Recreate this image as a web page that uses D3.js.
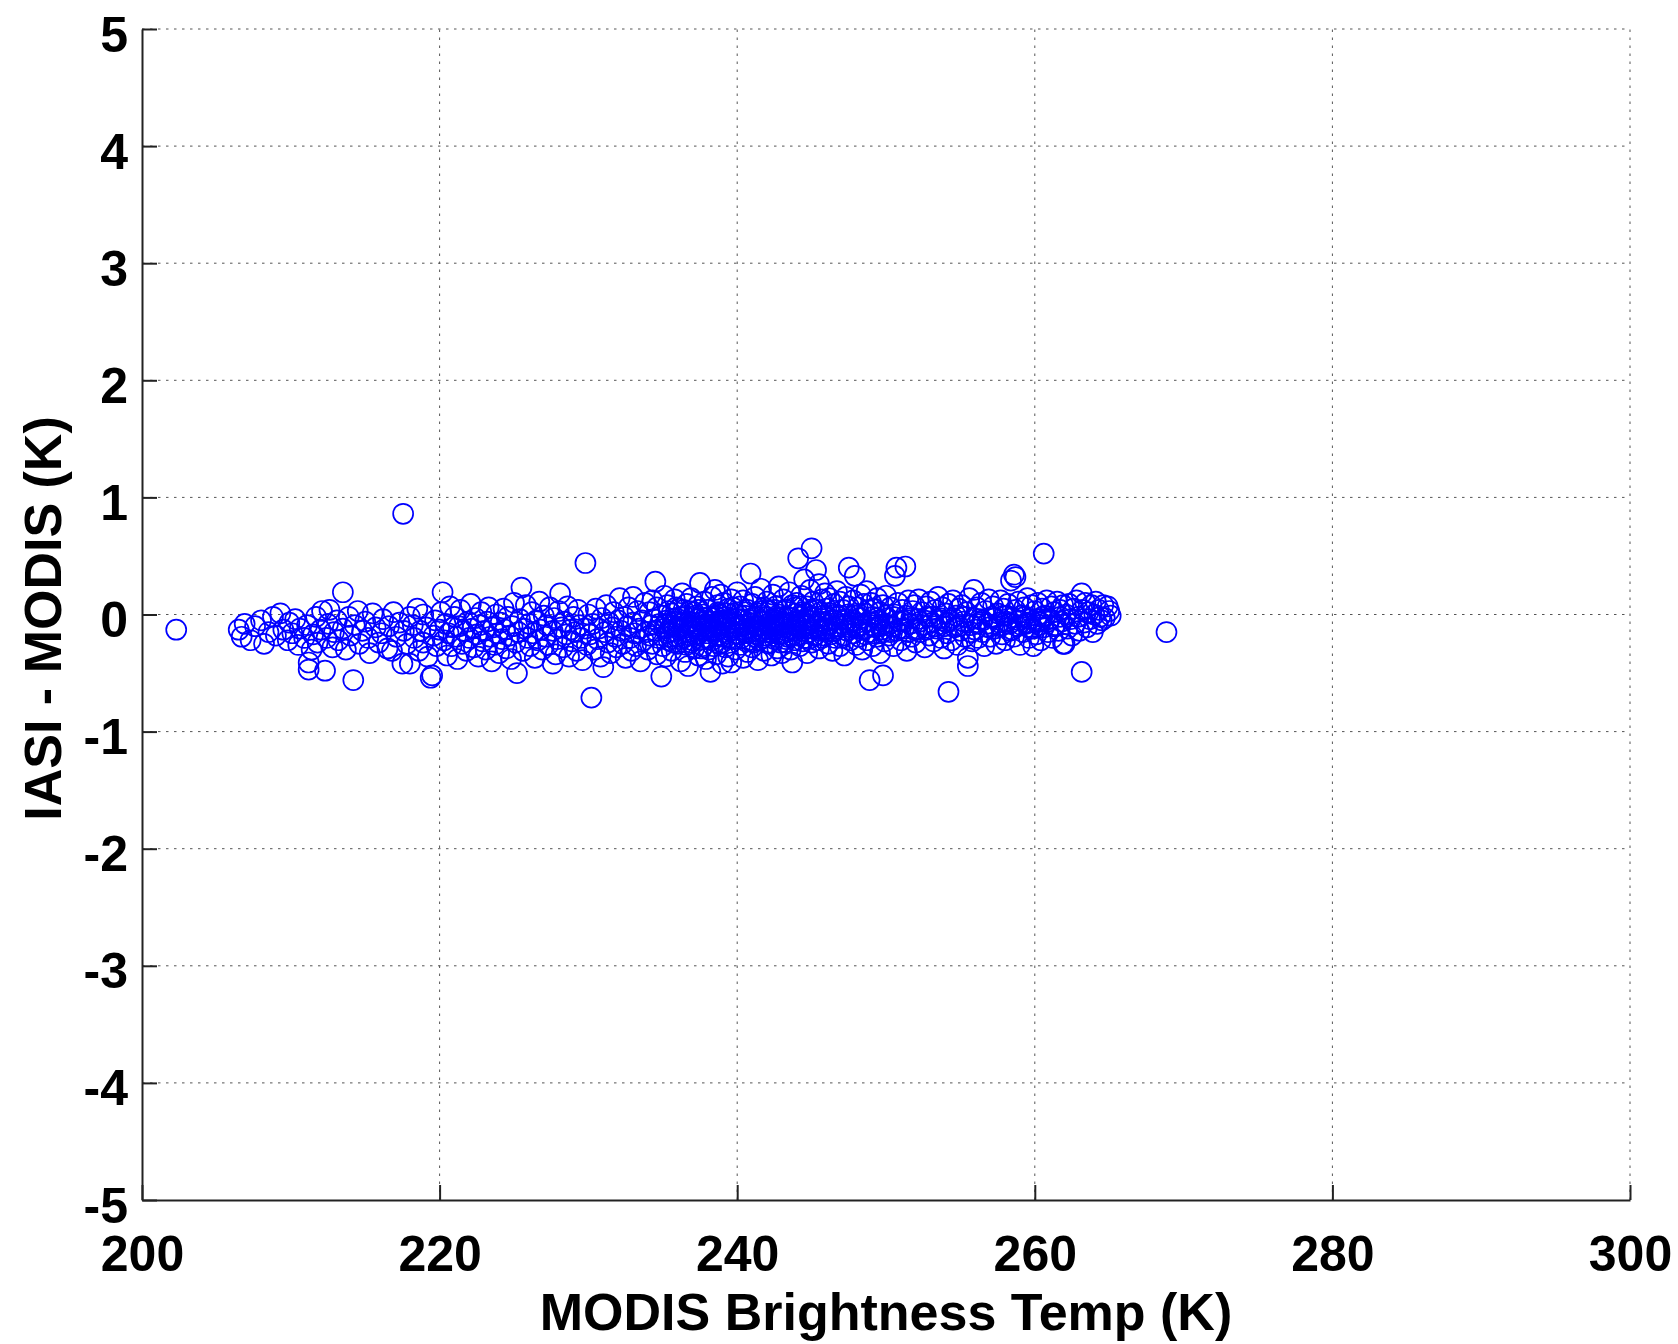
<!DOCTYPE html>
<html>
<head>
<meta charset="utf-8">
<script src="https://cdn.jsdelivr.net/npm/d3@7"></script>
<style>
  html, body { margin: 0; padding: 0; background: #fff; }
  svg { display: block; }
  text { font-family: "Liberation Sans", Arial, Helvetica, sans-serif; font-weight: bold; fill: #000; }
</style>
</head>
<body>
<svg id="chart" width="1678" height="1344"></svg>
<script>
// Axis ranges and tick values
const xTicks = [200, 220, 240, 260, 280, 300];
const yTicks = [-5, -4, -3, -2, -1, 0, 1, 2, 3, 4, 5];
const xTitle = "MODIS Brightness Temp (K)";
const yTitle = "IASI - MODIS (K)";

// Collocated samples: [MODIS brightness temperature (K), IASI - MODIS difference (K)]
const samplesCold = [
  [202.3,-0.13],[206.5,-0.13],[206.7,-0.19],[206.9,-0.08],[207.3,-0.22],[207.6,-0.1],[208.0,-0.05],[208.2,-0.25],
  [208.5,-0.15],[208.8,-0.02],[209.0,-0.18],[209.3,0.01],[209.5,-0.13],[209.8,-0.22],[209.9,-0.07],
  [210.1,-0.16],[210.3,-0.04],[210.5,-0.26],[210.6,-0.12],[210.9,-0.2],[211.1,-0.09],[211.2,-0.41],[211.2,-0.47],
  [211.4,-0.3],[211.5,-0.17],[211.7,-0.02],[211.8,-0.24],[212.0,-0.13],[212.1,0.03],[212.3,-0.48],[212.4,-0.2],
  [212.5,-0.08],[212.6,0.04],[212.8,-0.28],[212.9,-0.15],[213.1,-0.05],[213.2,-0.22],[213.5,0.19],[213.5,-0.12],
  [213.7,-0.3],[213.9,-0.02],[214.0,-0.18],[214.2,-0.56],[214.3,-0.09],[214.5,0.03],[214.6,-0.25],[214.8,-0.14],
  [215.0,-0.06],[215.2,-0.2],[215.3,-0.33],[215.5,0.01],[215.7,-0.11],[215.9,-0.24],[216.1,-0.16],[216.2,-0.04],
  [216.5,-0.29],[216.6,-0.1],[216.8,-0.31],[216.9,0.02],[217.1,-0.19],[217.3,-0.07],[217.5,-0.42],[217.55,0.86],
  [217.6,-0.14],[217.8,-0.25],[218.0,-0.02],[218.0,-0.42]
];

const samplesMid = [
  [218.2,-0.09],[218.3,-0.2],[218.5,0.05],[218.6,-0.31],[218.7,-0.14],[218.9,-0.24],[218.9,0.0],[219.1,-0.11],
  [219.2,-0.36],[219.4,-0.54],[219.5,-0.52],[219.6,-0.18],[219.7,-0.05],[219.8,-0.27],
  [220.0,-0.13],[220.1,0.02],[220.2,0.19],[220.3,-0.22],[220.4,-0.08],[220.5,-0.35],[220.6,-0.16],[220.7,0.07],
  [220.8,-0.27],[220.9,-0.11],[221.0,-0.02],[221.1,-0.19],[221.2,-0.38],[221.3,-0.1],[221.4,0.04],[221.5,-0.25],
  [221.6,-0.14],[221.8,-0.31],[221.9,-0.06],[222.0,-0.2],
  [222.1,0.09],[222.2,-0.12],[222.3,-0.28],[222.4,-0.03],[222.5,-0.17],[222.6,-0.36],[222.7,-0.09],[222.8,0.02],
  [222.9,-0.23],[223.0,-0.14],[223.1,-0.3],[223.2,-0.06],[223.3,0.06],[223.4,-0.19],[223.5,-0.4],[223.6,-0.11],
  [223.7,-0.26],[223.8,0.0],[223.9,-0.16],[224.0,-0.33],
  [224.1,-0.07],[224.2,-0.21],[224.3,0.05],[224.4,-0.13],[224.5,-0.29],[224.6,-0.02],[224.7,-0.18],[224.8,-0.38],
  [224.9,-0.1],[225.0,0.1],[225.1,-0.24],[225.2,-0.5],[225.3,-0.15],[225.4,-0.04],[225.5,0.23],[225.6,-0.31],
  [225.7,-0.12],[225.8,0.08],[225.9,-0.2],[226.0,-0.08],
  [226.1,-0.27],[226.2,0.02],[226.3,-0.16],[226.4,-0.37],[226.5,-0.05],[226.6,-0.22],[226.7,0.11],[226.8,-0.13],
  [226.9,-0.3],[227.0,-0.01],[227.1,-0.19],[227.2,-0.09],[227.3,-0.26],[227.4,0.06],[227.6,-0.42],[227.6,-0.14],
  [227.7,-0.03],[227.8,-0.34],[227.9,-0.21],[228.0,0.03],
  [228.1,0.18],[228.2,-0.11],[228.3,-0.28],[228.4,-0.06],[228.5,-0.17],[228.6,0.07],[228.7,-0.36],[228.8,-0.13],
  [228.9,-0.23],[229.0,-0.02],[229.1,-0.15],[229.2,-0.31],[229.3,0.04],[229.4,-0.09],[229.5,-0.2],[229.6,-0.39],
  [229.8,0.44],[229.8,-0.12],[229.9,-0.26],[230.0,0.0],
  [230.1,-0.17],[230.2,-0.71],[230.3,-0.08],[230.4,-0.3],[230.5,0.05],[230.6,-0.21],[230.7,-0.12],[230.8,-0.36],
  [230.9,-0.03],[231.0,-0.45],[231.1,-0.15],[231.2,0.08],[231.3,-0.24],[231.4,-0.07],[231.5,-0.33],[231.6,-0.11],
  [231.7,0.02],[231.8,-0.19],[231.9,-0.28],[232.0,-0.05],
  [232.1,0.14],[232.2,-0.14],[232.3,-0.25],[232.4,-0.02],[232.5,-0.37],[232.6,-0.1],[232.7,0.06],[232.8,-0.2],
  [232.9,-0.31],[233.0,0.15],[233.0,-0.07],[233.1,-0.16],[233.2,-0.27],[233.3,0.03],[233.4,-0.12],[233.5,-0.4],
  [233.6,-0.05],[233.7,-0.22],[233.8,0.1],[233.9,-0.15]
];

const samplesCore = [
  [234.0,-0.3],[234.1,0.02],[234.1,-0.18],[234.2,-0.09],[234.3,0.12],[234.3,-0.25],[234.4,-0.04],[234.5,0.28],
  [234.5,-0.14],[234.6,-0.34],[234.6,0.06],[234.7,-0.2],[234.8,-0.08],[234.9,-0.53],[234.9,-0.01],[235.0,-0.27],
  [235.1,0.16],[235.1,-0.12],[235.2,-0.36],[235.3,-0.05],[235.3,0.08],[235.4,-0.22],[235.5,-0.15],[235.6,0.01],
  [235.6,-0.31],[235.7,-0.1],[235.8,0.13],[235.9,-0.19],[235.9,-0.03],
  [236.0,-0.25],[236.1,0.05],[236.1,-0.13],[236.2,-0.4],[236.3,-0.07],[236.3,0.18],[236.4,-0.2],[236.5,-0.02],
  [236.5,-0.32],[236.6,0.09],[236.7,-0.15],[236.7,-0.44],[236.8,-0.06],[236.9,0.14],[236.9,-0.24],[237.0,-0.1],
  [237.1,0.02],[237.1,-0.29],[237.2,-0.17],[237.3,0.07],[237.3,-0.04],[237.4,-0.35],[237.5,0.27],[237.5,-0.12],
  [237.6,-0.21],[237.7,0.0],[237.7,-0.27],[237.8,0.11],[237.9,-0.08],[237.9,-0.38],
  [238.0,-0.16],[238.0,0.04],[238.1,-0.3],[238.2,-0.49],[238.2,-0.06],[238.3,0.15],[238.3,-0.22],[238.4,-0.11],
  [238.5,0.21],[238.5,-0.01],[238.6,-0.34],[238.6,-0.14],[238.7,0.08],[238.8,-0.25],[238.8,-0.05],[238.9,0.17],
  [238.9,-0.19],[239.0,-0.42],[239.0,-0.09],[239.1,0.1],[239.2,-0.28],[239.2,-0.02],[239.3,-0.16],[239.4,0.05],
  [239.4,-0.36],[239.5,-0.07],[239.6,-0.41],[239.6,0.13],[239.7,-0.21],[239.8,-0.11],[239.8,0.01],[239.9,-0.3],
  [240.0,-0.04],[240.0,0.19],[240.1,-0.17],[240.2,-0.26],[240.2,0.07],[240.3,-0.09],[240.4,-0.37],[240.4,0.12],
  [240.5,-0.13],[240.5,-0.01],[240.6,-0.23],[240.7,0.04],[240.7,-0.32],[240.8,-0.07],[240.9,0.35],[240.9,-0.15],
  [241.0,0.09],[241.0,-0.28],[241.1,-0.03],[241.2,-0.19],[241.2,0.15],[241.3,-0.1],[241.4,-0.39],[241.4,0.01],
  [241.5,-0.22],[241.6,0.22],[241.6,-0.06],[241.7,-0.14],[241.8,0.06],[241.8,-0.31],[241.9,-0.02],[241.9,-0.18],
  [242.0,0.11],[242.1,-0.25],[242.1,-0.08],[242.2,0.03],[242.3,-0.16],[242.3,-0.35],[242.4,0.17],[242.4,-0.04],
  [242.5,-0.21],[242.6,0.07],[242.6,-0.12],[242.7,-0.29],[242.8,0.0],[242.8,0.24],[242.9,-0.17],[243.0,-0.07],
  [243.0,-0.33],[243.1,0.13],[243.2,-0.11],[243.2,-0.24],[243.3,0.04],[243.4,-0.02],[243.4,-0.19],[243.5,0.19],
  [243.6,-0.09],[243.6,-0.3],[243.7,-0.41],[243.7,0.08],[243.8,-0.14],[243.9,0.01],[243.9,-0.22],
  [244.0,0.1],[244.1,0.48],[244.1,-0.05],[244.2,-0.27],[244.3,0.16],[244.3,-0.12],[244.4,0.02],[244.5,-0.2],
  [244.5,0.3],[244.6,-0.08],[244.7,0.07],[244.7,-0.33],[244.8,-0.15],[244.9,0.21],[244.9,-0.02],[245.0,0.565],
  [245.0,-0.24],[245.1,0.11],[245.2,-0.1],[245.3,0.38],[245.3,-0.17],[245.4,0.04],[245.5,-0.29],[245.5,0.26],
  [245.6,-0.06],[245.7,0.13],[245.7,-0.2],[245.8,-0.01],[245.9,0.18],[245.9,-0.13],
  [246.0,0.05],[246.1,-0.25],[246.1,-0.09],[246.2,0.14],[246.3,-0.17],[246.3,0.01],[246.4,-0.31],[246.5,0.09],
  [246.5,-0.05],[246.6,-0.2],[246.7,0.2],[246.7,-0.12],[246.8,-0.02],[246.9,-0.27],[246.9,0.11],[247.0,-0.08],
  [247.1,0.04],[247.1,-0.18],[247.2,-0.35],[247.3,0.15],[247.3,-0.04],[247.4,-0.14],[247.5,0.4],[247.5,0.07],
  [247.6,-0.22],[247.7,-0.07],[247.8,0.12],[247.8,-0.16],[247.9,0.33],[247.9,-0.01],
  [248.0,-0.26],[248.1,0.06],[248.1,-0.1],[248.2,-0.19],[248.3,0.17],[248.3,-0.03],[248.4,-0.3],[248.5,0.09],
  [248.5,-0.13],[248.6,0.01],[248.7,-0.22],[248.7,0.2],[248.8,-0.06],[248.9,-0.56],[248.9,-0.15],[249.0,0.1],
  [249.1,-0.02],[249.1,-0.27],[249.2,0.05],[249.3,-0.11],[249.4,0.14],[249.4,-0.19],[249.5,-0.05],[249.6,0.02],
  [249.6,-0.33],[249.7,-0.13],[249.8,-0.52],[249.8,0.08],[249.9,-0.08],[249.9,-0.23]
];

// Additional samples in the densest part of the distribution
const samplesDense = [
  [235.2,-0.08],[235.4,0.03],[235.5,-0.19],[235.7,-0.24],[235.8,-0.06],[235.9,0.06],[235.3,-0.16],[235.6,-0.09],
  [236.0,-0.11],[236.2,-0.02],[236.2,-0.21],[236.4,0.04],[236.4,-0.12],[236.6,-0.26],[236.6,-0.08],[236.8,0.03],
  [236.8,-0.18],[236.9,-0.1],[237.0,-0.22],[237.2,-0.01],[237.2,-0.1],[237.4,-0.16],[237.4,0.04],[237.6,-0.07],
  [237.6,-0.29],[237.8,-0.14],[237.8,-0.03],[237.9,-0.2],
  [238.0,-0.1],[238.1,-0.02],[238.1,-0.2],[238.3,-0.13],[238.4,-0.03],[238.4,-0.27],[238.6,-0.07],[238.7,-0.18],
  [238.7,0.02],[238.9,-0.12],[239.0,-0.24],[239.1,-0.05],[239.1,-0.15],[239.3,-0.08],[239.3,0.01],[239.5,-0.2],
  [239.5,-0.14],[239.7,-0.04],[239.7,0.06],[239.9,-0.16],[239.9,-0.08],
  [240.1,-0.1],[240.1,0.0],[240.3,-0.2],[240.3,-0.04],[240.5,-0.09],[240.6,-0.16],[240.6,0.02],[240.8,-0.12],
  [240.8,-0.22],[241.0,-0.05],[241.1,-0.14],[241.1,-0.24],[241.3,-0.02],[241.3,-0.17],[241.5,-0.1],[241.5,0.03],
  [241.7,-0.2],[241.7,-0.06],[241.9,-0.12],[241.9,0.04],
  [242.0,-0.15],[242.0,-0.02],[242.2,-0.1],[242.2,-0.24],[242.4,-0.13],[242.5,-0.06],[242.5,0.04],[242.7,-0.15],
  [242.7,-0.05],[242.9,-0.24],[242.9,-0.09],[243.1,-0.02],[243.1,-0.16],[243.3,-0.08],[243.3,-0.21],[243.5,-0.12],
  [243.5,-0.03],[243.7,-0.18],[243.8,-0.06],[243.9,0.06],
  [244.0,-0.09],[244.0,-0.18],[244.2,-0.02],[244.2,0.07],[244.4,-0.14],[244.4,-0.23],[244.6,0.01],[244.6,-0.1],
  [244.8,-0.05],[244.8,-0.21],[245.0,-0.12],[245.0,0.03],[245.2,-0.18],[245.2,-0.03],[245.4,-0.1],[245.4,-0.22],
  [245.6,0.02],[245.6,-0.14],[245.8,-0.07],[245.8,-0.18],
  [246.0,-0.12],[246.2,-0.05],[246.4,-0.14],[246.6,0.0],[246.8,-0.1],[247.0,-0.2],[247.2,-0.09],[247.4,0.0],
  [247.6,-0.11],[247.8,-0.05],[248.0,-0.12],[248.2,0.0],[248.4,-0.09],[248.6,-0.17],[248.8,0.04],[249.0,-0.09],
  [249.2,-0.16],[249.4,-0.03],[249.6,-0.1],[249.8,-0.15],
  [250.1,-0.09],[250.3,-0.15],[250.5,-0.02],[250.9,-0.12],[251.1,-0.05],[251.5,-0.15],[251.7,-0.03],[252.1,-0.12],
  [252.3,-0.06],[252.7,-0.13],[253.1,-0.02],[253.3,-0.1],[253.7,-0.05],[254.1,-0.07],[254.5,-0.03],[254.9,-0.1],
  [255.3,-0.02],[255.7,-0.15],
  [256.1,-0.08],[256.5,-0.05],[256.9,-0.11],[257.3,-0.03],[257.7,-0.1],[258.1,-0.01],[258.3,-0.08],[258.5,-0.13],
  [258.9,-0.05],[259.1,-0.09],[259.3,-0.02],[259.5,-0.07],[259.7,-0.12],[260.1,-0.04],[260.3,-0.09],[260.5,-0.02],
  [260.9,-0.06],[261.3,-0.1],[261.7,-0.02]
];

const samplesWarm = [
  [250.0,0.16],[250.1,-0.03],[250.2,-0.18],[250.3,0.06],[250.4,-0.1],[250.5,-0.27],[250.6,0.33],[250.6,0.0],
  [250.7,0.4],[250.7,-0.14],[250.8,0.1],[250.9,-0.06],[251.0,-0.22],[251.1,0.04],[251.2,-0.12],[251.3,0.41],
  [251.3,-0.01],[251.4,-0.31],[251.5,0.12],[251.6,-0.08],[251.7,-0.19],[251.8,0.03],[251.9,-0.13],[251.9,0.08],
  [252.0,-0.24],[252.1,-0.04],[252.2,0.13],[252.3,-0.15],[252.4,0.02],[252.5,-0.09],[252.6,-0.28],[252.7,0.07],
  [252.8,-0.02],[252.9,-0.18],[253.0,0.11],[253.1,-0.07],[253.2,-0.23],[253.3,0.04],[253.4,-0.12],[253.5,0.15],
  [253.6,-0.03],[253.7,-0.2],[253.8,0.06],[253.9,-0.1],[253.9,-0.29],
  [254.0,0.01],[254.1,-0.16],[254.2,-0.66],[254.2,0.09],[254.3,-0.05],[254.4,-0.22],[254.5,0.12],[254.6,-0.11],
  [254.7,-0.01],[254.8,-0.26],[254.9,0.05],[255.0,-0.14],[255.1,0.08],[255.2,-0.06],[255.3,-0.19],[255.4,0.02],
  [255.5,-0.37],[255.5,-0.44],[255.6,0.14],[255.7,-0.09],[255.8,-0.23],[255.9,0.21],[255.9,-0.03],
  [256.0,-0.13],[256.1,0.06],[256.2,-0.2],[256.3,-0.04],[256.4,0.1],[256.5,-0.15],[256.6,-0.27],[256.7,0.03],
  [256.8,-0.08],[256.9,0.13],[257.0,-0.19],[257.1,-0.02],[257.2,0.07],[257.3,-0.12],[257.4,-0.25],[257.5,0.01],
  [257.6,-0.07],[257.7,0.12],[257.8,-0.17],[257.9,-0.01],[257.9,0.05],
  [258.0,-0.22],[258.1,-0.06],[258.2,0.09],[258.3,-0.14],[258.4,0.29],[258.5,-0.03],[258.6,0.34],[258.6,-0.19],
  [258.7,0.04],[258.7,0.32],[258.8,-0.1],[258.9,0.11],[259.0,-0.26],[259.1,-0.01],[259.2,-0.15],[259.3,0.06],
  [259.4,-0.08],[259.5,0.14],[259.6,-0.2],[259.7,-0.04],[259.8,0.08],[259.9,-0.27],[259.9,-0.12],
  [260.0,0.03],[260.1,-0.17],[260.2,0.1],[260.3,-0.06],[260.4,-0.22],[260.5,0.05],[260.6,0.52],[260.6,-0.11],
  [260.7,-0.01],[260.8,0.12],[260.9,-0.15],[261.0,-0.04],[261.1,0.07],[261.2,-0.2],[261.3,0.02],[261.4,-0.09],
  [261.5,0.11],[261.6,-0.14],[261.7,0.04],[261.8,-0.06],[261.9,-0.25],[261.9,0.08],
  [262.0,-0.25],[262.1,0.0],[262.2,-0.12],[262.3,0.09],[262.4,-0.04],[262.5,-0.18],[262.6,0.05],[262.7,-0.08],
  [262.8,0.12],[262.9,-0.02],[263.0,-0.14],[263.15,-0.49],[263.15,0.18],[263.2,0.04],[263.3,-0.07],[263.4,0.1],
  [263.5,-0.11],[263.6,0.02],[263.7,-0.04],[263.8,0.08],[263.9,-0.15],
  [264.0,0.0],[264.1,0.11],[264.2,-0.08],[264.3,0.04],[264.4,-0.02],[264.5,-0.05],[264.6,0.08],[264.7,-0.03],
  [264.9,0.07],[265.0,0.03],[265.1,-0.01],[268.85,-0.15]
];

const samples = [...samplesCold, ...samplesMid, ...samplesCore, ...samplesDense, ...samplesWarm];

// Plot frame
const plot = { left: 142, right: 1630, top: 29, bottom: 1200 };

const svg = d3.select("#chart");
svg.append("rect").attr("width", 1678).attr("height", 1344).attr("fill", "#fff");

const x = d3.scaleLinear().domain([200, 300]).range([plot.left, plot.right]);
const y = d3.scaleLinear().domain([-5, 5]).range([plot.bottom, plot.top]);

// Dotted grid
const grid = svg.append("g").attr("class", "grid")
  .attr("stroke", "#555").attr("stroke-width", 1).attr("stroke-dasharray", "2.5,5.5");
grid.selectAll("line.gx").data(xTicks.slice(1)).join("line").attr("class", "gx")
  .attr("x1", d => x(d)).attr("x2", d => x(d))
  .attr("y1", plot.bottom).attr("y2", plot.top);
grid.selectAll("line.gy").data(yTicks.slice(1)).join("line").attr("class", "gy")
  .attr("x1", plot.left).attr("x2", plot.right)
  .attr("y1", d => y(d)).attr("y2", d => y(d));

// Scatter markers (open circles)
svg.append("g").attr("class", "points")
  .attr("fill", "none").attr("stroke", "#0000ff").attr("stroke-width", 1.7)
  .selectAll("circle").data(samples).join("circle")
  .attr("cx", d => x(d[0])).attr("cy", d => y(d[1])).attr("r", 10);

// Axes with inward ticks; labels use a plain hyphen for negatives
const plainFormat = d => String(d);
const xAxis = d3.axisBottom(x).tickValues(xTicks).tickFormat(plainFormat)
  .tickSizeInner(-15).tickSizeOuter(0).tickPadding(35);
const yAxis = d3.axisLeft(y).tickValues(yTicks).tickFormat(plainFormat)
  .tickSizeInner(-15).tickSizeOuter(0).tickPadding(14);

const gx = svg.append("g").attr("transform", `translate(0,${plot.bottom})`).call(xAxis);
const gy = svg.append("g").attr("transform", `translate(${plot.left},0)`).call(yAxis);

[gx, gy].forEach(g => {
  g.select(".domain").attr("stroke", "#222").attr("stroke-width", 2);
  g.selectAll(".tick line").attr("stroke", "#222").attr("stroke-width", 2);
  g.selectAll(".tick text")
    .attr("fill", "#000")
    .style("font-family", '"Liberation Sans", Arial, Helvetica, sans-serif')
    .style("font-weight", "bold")
    .style("font-size", "50px");
});
gy.selectAll(".tick text").attr("dy", "0.44em");

// Axis titles
svg.append("text")
  .attr("x", (plot.left + plot.right) / 2).attr("y", 1330)
  .attr("text-anchor", "middle").style("font-size", "52px")
  .text(xTitle);

svg.append("text")
  .attr("transform", `translate(61,${(plot.top + plot.bottom) / 2 + 4}) rotate(-90)`)
  .attr("text-anchor", "middle").style("font-size", "52px")
  .text(yTitle);
</script>
</body>
</html>
